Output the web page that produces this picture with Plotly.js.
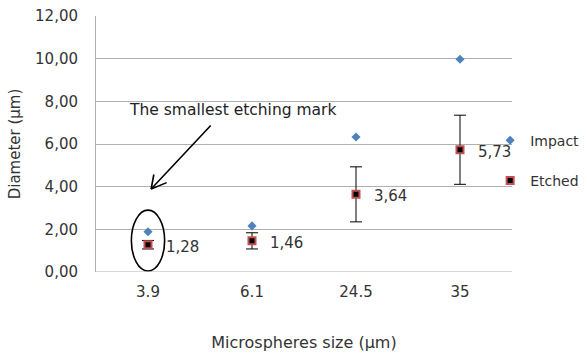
<!DOCTYPE html>
<html><head><meta charset="utf-8">
<script src="https://cdn.plot.ly/plotly-3.0.1.min.js"></script>
<style>html,body{margin:0;padding:0;background:#fff}</style>
</head><body><div id="chart" style="width:587px;height:356px"></div>
<script>
const categories = ["3.9", "6.1", "24.5", "35"];
const impact = [1.89, 2.16, 6.33, 9.97];
const etched = [1.28, 1.46, 3.64, 5.73];
const etchedErr = [0.2, 0.38, 1.29, 1.62];
const etchedLabels = ["1,28", "1,46", "3,64", "5,73"];
const yTicks = [0, 2, 4, 6, 8, 10, 12];
const yTickText = ["0,00", "2,00", "4,00", "6,00", "8,00", "10,00", "12,00"];

const FAM = "DejaVu Sans, sans-serif";
const TXT = "#333333";
const font = {family: FAM, size: 15, color: TXT};

const traces = [
  {x: categories, y: impact, name: "Impact", type: "scatter", mode: "markers", legendgroup: "a",
   marker: {symbol: "diamond", color: "#4f81bd", size: 7}},
  {x: categories, y: etched, name: "Etched", type: "scatter", mode: "markers", legendgroup: "b",
   marker: {symbol: "square", color: "#000000", size: 7, line: {color: "#c0504d", width: 2}},
   error_y: {type: "data", array: etchedErr, visible: true, color: "#000000", thickness: 1, width: 6}}
];

const annotations = categories.map((c, i) => ({
  x: i, y: etched[i], xref: "x", yref: "y", text: etchedLabels[i], showarrow: false, xanchor: "left", xshift: 16, yshift: -2,
  font: {family: FAM, size: 15, color: TXT}
}));
// arrow shaft and open head, pointing at the smallest mark
const arrowLines = [[61, -65], [17, -7], [3, -16]];
arrowLines.forEach(([ax, ay]) => annotations.push({
  x: 0.03, y: 3.89, xref: "x", yref: "y", ax: ax, ay: ay, axref: "pixel", ayref: "pixel",
  showarrow: true, arrowhead: 0, arrowwidth: 1.6, arrowcolor: "#000", text: ""
}));
annotations.push({
  xref: "paper", yref: "paper", x: 0.074, y: 0.633, xanchor: "left", yanchor: "middle", showarrow: false,
  text: "The smallest etching mark", font: {family: FAM, size: 15.5, color: "#222"}
});

const layout = {
  width: 587, height: 356,
  margin: {l: 96, r: 75, t: 16, b: 84, autoexpand: false},
  paper_bgcolor: "#fff", plot_bgcolor: "#fff",
  font: font,
  showlegend: true,
  legend: {xref: "container", x: 0.835, xanchor: "left", y: 0.435, yanchor: "middle", tracegroupgap: 19,
           font: {family: FAM, size: 14, color: TXT}, itemwidth: 30, bgcolor: "rgba(0,0,0,0)"},
  xaxis: {type: "category", range: [-0.5, 3.5], showgrid: false, zeroline: false,
          showline: false, ticks: "", tickfont: {size: 15}, ticklabelstandoff: 9,
          title: {text: "Microspheres size (µm)", font: {size: 16, color: TXT}, standoff: 36}},
  yaxis: {range: [0, 12], tickvals: yTicks, ticktext: yTickText, showgrid: true, gridcolor: "#b0b0b0",
          gridwidth: 1, zeroline: false, showline: true, linecolor: "#b0b0b0", ticks: "", tickfont: {size: 15},
          ticklabelstandoff: 14,
          title: {text: "Diameter (µm)", font: {size: 15, color: TXT}, standoff: 10}},
  shapes: [
    {type: "circle", xref: "x", yref: "y", x0: -0.16, x1: 0.16, y0: 0.05, y1: 2.9,
     line: {color: "#000", width: 1.6}},
    {type: "line", xref: "paper", yref: "y", x0: 0, x1: 1, y0: 0, y1: 0, line: {color: "#b0b0b0", width: 1}}
  ],
  annotations: annotations
};
Plotly.newPlot("chart", traces, layout, {displayModeBar: false, staticPlot: true});
</script></body></html>
